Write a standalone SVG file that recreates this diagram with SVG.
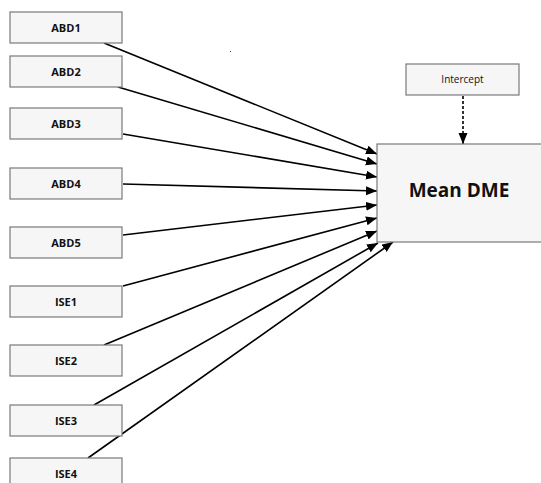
<svg xmlns="http://www.w3.org/2000/svg" width="541" height="483" viewBox="0 0 541 483">
<style>
.box{fill:#f6f6f6;stroke:#7a7a7a;stroke-width:1.2}
.lbl{font-family:"Open Sans","Liberation Sans",sans-serif;font-size:11px;font-weight:bold;fill:#111;text-anchor:middle}
.int{font-family:"Open Sans","Liberation Sans",sans-serif;font-size:10px;fill:#111;text-anchor:middle}
.main{font-family:"Open Sans","Liberation Sans",sans-serif;font-size:19px;font-weight:bold;fill:#111;text-anchor:middle}
.edge{stroke:#000;stroke-width:1.6;fill:none;marker-end:url(#ah)}
.dash{stroke:#000;stroke-width:1.6;fill:none;stroke-dasharray:3 2;marker-end:url(#ah)}
</style>
<defs>
<marker id="ah" markerUnits="userSpaceOnUse" markerWidth="12" markerHeight="10" refX="11" refY="4.5" orient="auto">
<path d="M0,0 L11,4.5 L0,9 z" fill="#000"/>
</marker>
</defs>
<rect width="541" height="483" fill="#fff"/>
<rect x="230" y="51" width="1" height="1" fill="#555"/>
<g id="connectors">
<line class="edge" x1="104" y1="43" x2="377" y2="154"/>
<line class="edge" x1="118" y1="87" x2="377" y2="164"/>
<line class="edge" x1="123" y1="134" x2="377" y2="177"/>
<line class="edge" x1="123" y1="184" x2="377" y2="191"/>
<line class="edge" x1="123" y1="235" x2="377" y2="205"/>
<line class="edge" x1="123" y1="286" x2="377" y2="218"/>
<line class="edge" x1="104" y1="345" x2="377" y2="231"/>
<line class="edge" x1="94" y1="405" x2="378" y2="243"/>
<line class="edge" x1="88" y1="458" x2="393" y2="242"/>
<line class="dash" x1="463" y1="96" x2="463" y2="144"/>
</g>
<g id="ABD1"><rect class="box" x="10" y="12" width="112" height="31"/><text class="lbl" x="66" y="31.5">ABD1</text></g>
<g id="ABD2"><rect class="box" x="10" y="56" width="112" height="31"/><text class="lbl" x="66" y="75.5">ABD2</text></g>
<g id="ABD3"><rect class="box" x="10" y="108" width="112" height="31"/><text class="lbl" x="66" y="127.5">ABD3</text></g>
<g id="ABD4"><rect class="box" x="10" y="168" width="112" height="31"/><text class="lbl" x="66" y="187.5">ABD4</text></g>
<g id="ABD5"><rect class="box" x="10" y="227" width="112" height="31"/><text class="lbl" x="66" y="246.5">ABD5</text></g>
<g id="ISE1"><rect class="box" x="10" y="286" width="112" height="31"/><text class="lbl" x="66" y="305.5">ISE1</text></g>
<g id="ISE2"><rect class="box" x="10" y="345" width="112" height="31"/><text class="lbl" x="66" y="364.5">ISE2</text></g>
<g id="ISE3"><rect class="box" x="10" y="405" width="112" height="31"/><text class="lbl" x="66" y="424.5">ISE3</text></g>
<g id="ISE4"><rect class="box" x="10" y="458" width="112" height="31"/><text class="lbl" x="66" y="477.5">ISE4</text></g>
<g id="Intercept"><rect class="box" x="406" y="64" width="113" height="31"/><text class="int" x="462.5" y="83">Intercept</text></g>
<g id="MeanDME"><rect class="box" x="377" y="144" width="170" height="98"/><text class="main" x="459" y="197">Mean DME</text></g>
</svg>
